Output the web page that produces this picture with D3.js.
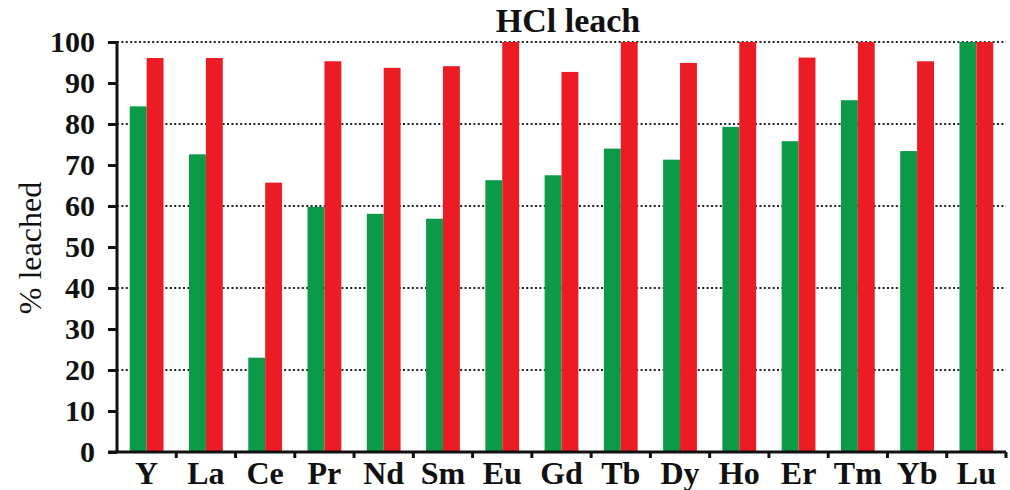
<!DOCTYPE html>
<html>
<head>
<meta charset="utf-8">
<script src="https://cdn.jsdelivr.net/npm/d3@7"></script>
<style>
html,body{margin:0;padding:0;background:#fff;}
svg{display:block;}
text{font-family:"Liberation Serif","Times New Roman","DejaVu Serif",serif;fill:#111;}
</style>
</head>
<body>
<svg id="chart" width="1010" height="490"></svg>
<script>
const categories = ["Y","La","Ce","Pr","Nd","Sm","Eu","Gd","Tb","Dy","Ho","Er","Tm","Yb","Lu"];
const greenValues = [84.3,72.6,23.0,59.8,58.1,56.9,66.3,67.5,74.0,71.3,79.3,75.8,85.8,73.4,100];
const redValues   = [96.1,96.1,65.7,95.3,93.7,94.1,100,92.7,100,94.9,100,96.2,100,95.3,100];
const yTicks = [0,10,20,30,40,50,60,70,80,90,100];
const gridTicks = [20,40,60,80,100];
const seriesNames = ["green","red"];
const seriesColors = ["#0b9a48","#ec1c24"];
const FONT = '"Liberation Serif","Times New Roman","DejaVu Serif",serif';

const svg = d3.select("#chart");
const mLeft = 117, mRight = 1006, mTop = 42, mBottom = 452;

const x = d3.scaleBand().domain(categories).range([mLeft,mRight]).paddingInner(0.43).paddingOuter(0.215);
const xs = d3.scaleBand().domain(seriesNames).range([0,x.bandwidth()]);
const y = d3.scaleLinear().domain([0,100]).range([mBottom,mTop]);

// gridlines
svg.append("g").selectAll("line").data(gridTicks).join("line")
  .attr("x1",mLeft).attr("x2",mRight)
  .attr("y1",d=>y(d)).attr("y2",d=>y(d))
  .attr("stroke","#222").attr("stroke-width",2.2).attr("stroke-dasharray","2,2.4");

// bars
const data = categories.map((c,i)=>({cat:c, vals:[greenValues[i],redValues[i]]}));
const g = svg.append("g").selectAll("g").data(data).join("g")
  .attr("transform",d=>`translate(${x(d.cat)},0)`);
g.selectAll("rect").data(d=>d.vals.map((v,j)=>({s:seriesNames[j],v,j}))).join("rect")
  .attr("x",d=>xs(d.s)).attr("width",xs.bandwidth())
  .attr("y",d=>y(d.v)).attr("height",d=>y(0)-y(d.v))
  .attr("fill",d=>seriesColors[d.j]);

// y axis
const yAxis = svg.append("g").attr("transform",`translate(${mLeft},0)`)
  .call(d3.axisLeft(y).tickValues(yTicks).tickSize(9).tickPadding(13));
yAxis.attr("font-family",FONT);
yAxis.select(".domain").attr("stroke","#111").attr("stroke-width",3).attr("d",`M0,${mTop-1}V${mBottom}`);
yAxis.selectAll(".tick line").attr("stroke","#111").attr("stroke-width",3);
yAxis.selectAll(".tick text").attr("font-size",30).attr("font-weight","bold")
  .style("font-family",FONT).attr("fill","#111");

// x axis
const xAxis = svg.append("g").attr("transform",`translate(0,${mBottom})`)
  .call(d3.axisBottom(x).tickSize(0).tickPadding(12));
xAxis.attr("font-family",FONT);
xAxis.select(".domain").attr("stroke","#111").attr("stroke-width",3).attr("d",`M${mLeft-9},0H${mRight}`);
xAxis.selectAll(".tick text").attr("font-size",32).attr("font-weight","bold")
  .style("font-family",FONT).attr("fill","#111").attr("dy","0.63em");
// separator ticks between categories
const bounds = categories.map(c=>x(c)-x.step()*x.paddingInner()/2).slice(1).concat([mRight]);
xAxis.append("g").selectAll("line").data(bounds).join("line")
  .attr("x1",d=>d).attr("x2",d=>d).attr("y1",0).attr("y2",6)
  .attr("stroke","#111").attr("stroke-width",3);

// title
svg.append("text").attr("x",568).attr("y",32).attr("text-anchor","middle")
  .style("font-family",FONT).attr("font-size",34).attr("font-weight","bold").text("HCl leach");

// y label
svg.append("text").attr("transform",`translate(41,${248}) rotate(-90)`)
  .style("font-family",FONT).attr("text-anchor","middle").attr("font-size",32).text("% leached");
</script>
</body>
</html>
